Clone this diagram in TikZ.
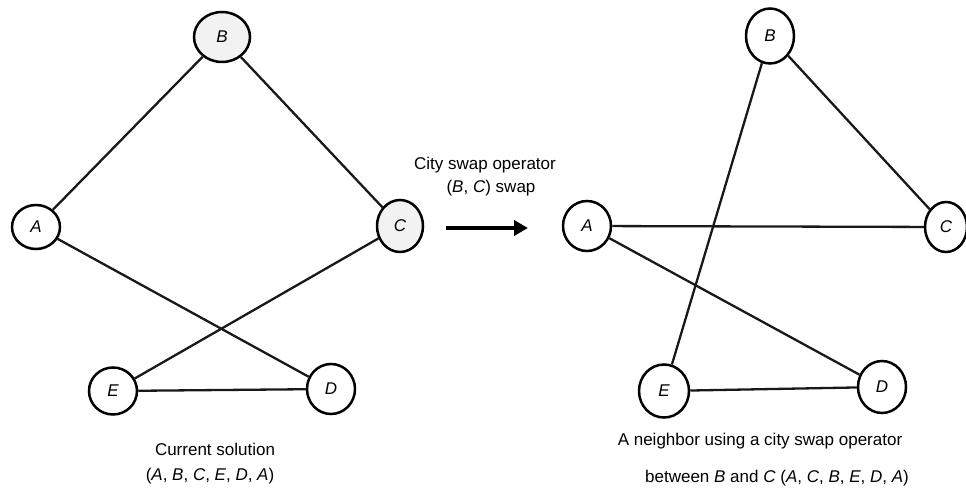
\documentclass[tikz,border=0pt]{standalone}
\usepackage{fontspec}
\setmainfont{Liberation Sans}
\usetikzlibrary{shapes.geometric,arrows.meta}
\begin{document}
\begin{tikzpicture}[x=1pt,y=-1pt,
  city/.style={ellipse,draw=black,line width=2.5pt,inner sep=0pt,minimum width=48pt,minimum height=50pt,font=\fontsize{17}{20}\selectfont\itshape},
  shaded/.style={fill=black!5},
  edge/.style={line width=2.3pt,draw=black!90},
  lbl/.style={font=\fontsize{17}{20}\selectfont,inner sep=0pt,anchor=center}]
\useasboundingbox (0,0) rectangle (966,489);
% left graph
\node[city,shaded,minimum width=56pt] (lB) at (222,37) {B};
\node[city,minimum height=44pt] (lA) at (36,227) {A};
\node[city,shaded,minimum width=46pt,minimum height=52pt] (lC) at (400,226) {C};
\node[city,minimum height=47pt] (lE) at (113,391) {E};
\node[city] (lD) at (331,389) {D};
\draw[edge] (lA) -- (lB);
\draw[edge] (lB) -- (lC);
\draw[edge] (lC) -- (lE);
\draw[edge] (lE) -- (lD);
\draw[edge] (lD) -- (lA);
% right graph
\node[city,minimum height=55pt] (rB) at (770,36) {B};
\node[city,minimum width=42pt] (rC) at (946,227) {C};
\node[city] (rA) at (587,226) {A};
\node[city,minimum width=50pt,minimum height=53pt] (rE) at (664,391) {E};
\node[city,minimum height=52pt] (rD) at (882,387) {D};
\draw[edge] (rA) -- (rC);
\draw[edge] (rC) -- (rB);
\draw[edge] (rB) -- (rE);
\draw[edge] (rE) -- (rD);
\draw[edge] (rD) -- (rA);
% operator
\node[lbl] (op1) at (485,165) {City swap operator};
\node[lbl] (op2) at (491,188) {(\textit{B}, \textit{C}) swap};
\coordinate (arS) at (446,228);
\coordinate (arE) at (528,228);
\draw[line width=4pt,-{Triangle[length=14pt,width=15pt]}] (arS) -- (arE);
% captions
\node[lbl] (cap1) at (215,449) {Current solution};
\node[lbl] (cap2) at (210,476) {(\textit{A}, \textit{B}, \textit{C}, \textit{E}, \textit{D}, \textit{A})};
\node[lbl] (cap3) at (760,441) {A neighbor using a city swap operator};
\node[lbl] (cap4) at (777,478) {between \textit{B} and \textit{C} (\textit{A}, \textit{C}, \textit{B}, \textit{E}, \textit{D}, \textit{A})};
\end{tikzpicture}
\end{document}
